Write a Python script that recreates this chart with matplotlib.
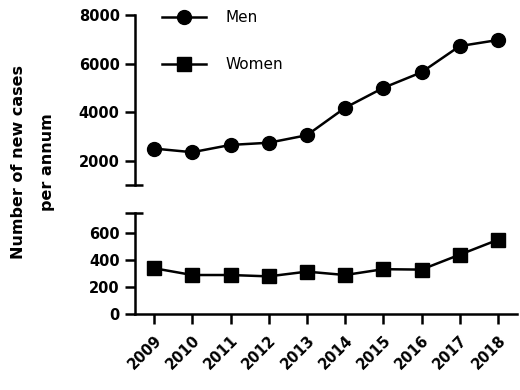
import matplotlib
matplotlib.use("Agg")
import matplotlib.pyplot as plt

years = [2009, 2010, 2011, 2012, 2013, 2014, 2015, 2016, 2017, 2018]
men = [2500, 2350, 2650, 2740, 3050, 4180, 5000, 5640, 6720, 6970]
women = [340, 290, 290, 280, 315, 290, 333, 330, 440, 550]
top_ticks = [2000, 4000, 6000, 8000]
bottom_ticks = [0, 200, 400, 600]
series_labels = ["Men", "Women"]
ylabel = "Number of new cases\nper annum"

plt.rcParams['font.family'] = ['DejaVu Sans']

W, H = 520, 390
fig = plt.figure(figsize=(W / 100, H / 100), dpi=100)

def fx(px):
    return px / W

def fy(py):
    return 1 - py / H

left, right = 135, 517
ax_top = fig.add_axes([fx(left), fy(185), fx(right - left), fy(15) - fy(185)])
ax_bot = fig.add_axes([fx(left), fy(314.3), fx(right - left), fy(212.7) - fy(314.3)])

lw = 1.8
for ax in (ax_top, ax_bot):
    for s in ("top", "right"):
        ax.spines[s].set_visible(False)
    for s in ("left", "bottom"):
        ax.spines[s].set_linewidth(lw)
    ax.set_xlim(2008.5, 2018.5)
    ax.tick_params(axis="both", width=lw, length=7, pad=4, labelsize=10.5)

ms = 10
ax_top.plot(years, men, color="black", lw=1.8, marker="o", markersize=ms,
            label=series_labels[0], clip_on=False)
ax_top.plot([], [], color="black", lw=1.8, marker="s", markersize=ms,
            label=series_labels[1])
ax_bot.plot(years, women, color="black", lw=1.8, marker="s", markersize=ms,
            clip_on=False)

ax_top.set_ylim(1000, 8000)
ax_top.set_yticks(top_ticks)
ax_top.spines["bottom"].set_visible(False)
ax_top.tick_params(axis="x", bottom=False, labelbottom=False)

ax_bot.set_ylim(0, 750)
ax_bot.set_yticks(bottom_ticks)
ax_bot.set_xticks(years)
ax_bot.set_xticklabels([str(y) for y in years], rotation=45, ha="right",
                       rotation_mode="anchor", fontweight="bold", fontsize=10.5)
ax_bot.tick_params(axis="x", pad=6)

for ax in (ax_top, ax_bot):
    for lab in ax.get_yticklabels():
        lab.set_fontweight("bold")

# break marks at the ends of the split axis
ax_top.plot([-0.027, 0.022], [0, 0], transform=ax_top.transAxes, color="black",
            lw=lw, clip_on=False, solid_capstyle="butt")
ax_bot.plot([-0.027, 0.022], [1, 1], transform=ax_bot.transAxes, color="black",
            lw=lw, clip_on=False, solid_capstyle="butt")

leg = ax_top.legend(loc="upper left", bbox_to_anchor=(0.07, 1.028), frameon=False,
                    handlelength=2.9, labelspacing=2.1, handletextpad=1.3,
                    borderpad=0, borderaxespad=0, fontsize=11)

fig.text(fx(33), fy(162), ylabel, rotation=90, ha="center", va="center",
         multialignment="center", fontsize=11.5, fontweight="bold",
         linespacing=2.1)

fig.savefig("out.png", dpi=100)
